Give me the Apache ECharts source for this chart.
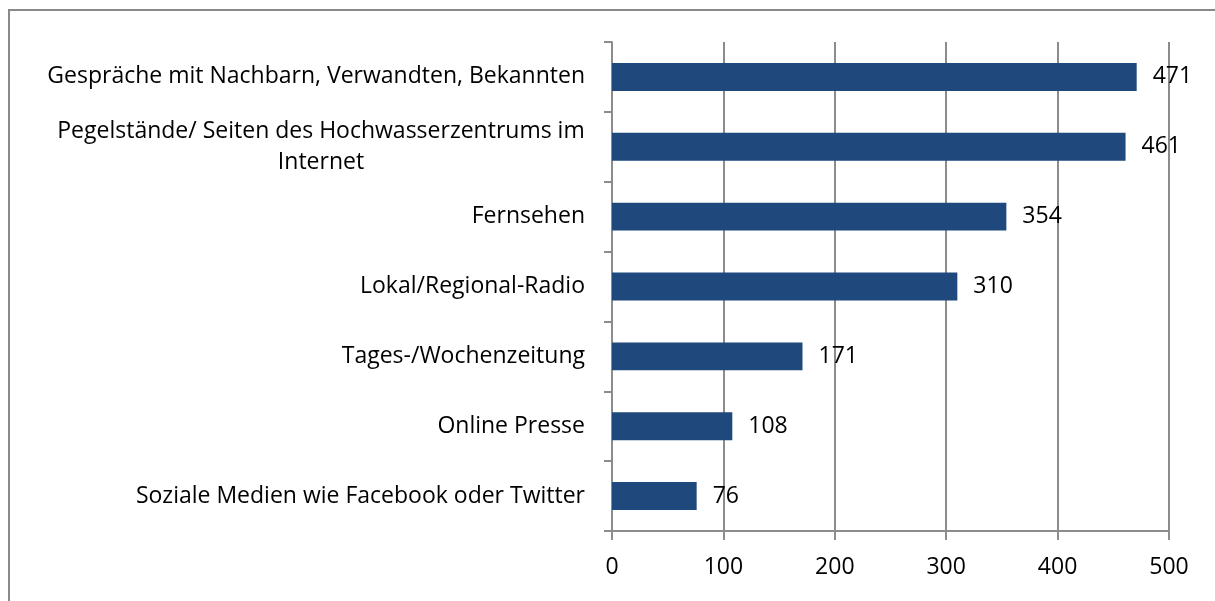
<!DOCTYPE html>
<html>
<head>
<meta charset="utf-8">
<script src="https://cdn.jsdelivr.net/npm/echarts@6/dist/echarts.min.js"></script>
<style>
  html, body { margin: 0; padding: 0; background: #fff; }
  #frame { position: absolute; left: 8px; top: 9px; width: 1215px; height: 600px; border-left: 2px solid #898989; border-top: 2px solid #898989; box-sizing: border-box; }
  #chart { position: absolute; left: 0; top: 0; width: 1215px; height: 601px; }
</style>
</head>
<body>
<div id="frame"></div>
<div id="chart"></div>
<script>
const categories = [
  'Gespräche mit Nachbarn, Verwandten, Bekannten',
  'Pegelstände/ Seiten des Hochwasserzentrums im\nInternet',
  'Fernsehen',
  'Lokal/Regional-Radio',
  'Tages-/Wochenzeitung',
  'Online Presse',
  'Soziale Medien wie Facebook oder Twitter'
]
const values = [471, 461, 354, 310, 171, 108, 76]
const xTicks = [0, 100, 200, 300, 400, 500]

const font = '"Open Sans", sans-serif'
const fontSize = 23
const axisGray = '#8c8c8c'

// 测量换行标签第一行的宽度，让第二行在块内居中
function textWidth (str) {
  const ctx = document.createElement('canvas').getContext('2d')
  ctx.font = fontSize + 'px ' + font
  return Math.ceil(ctx.measureText(str).width)
}

let chart = echarts.init(document.getElementById('chart'))
chart.setOption({
  animation: false,
  textStyle: { fontFamily: font },
  grid: {
    left: 612,
    right: 46,
    top: 42,
    bottom: 70
  },
  xAxis: {
    type: 'value',
    min: xTicks[0],
    max: xTicks[xTicks.length - 1],
    interval: 100,
    axisLine: { show: true, lineStyle: { color: axisGray, width: 2 } },
    axisTick: { show: true, length: 9, lineStyle: { color: axisGray, width: 2 } },
    splitLine: { show: true, lineStyle: { color: axisGray, width: 2 } },
    axisLabel: { color: '#000', fontSize: fontSize, margin: 25, fontFamily: font }
  },
  yAxis: {
    type: 'category',
    inverse: true,
    data: categories,
    axisLine: { show: true, lineStyle: { color: axisGray, width: 2 } },
    axisTick: { show: true, length: 8, lineStyle: { color: axisGray, width: 2 } },
    axisLabel: {
      color: '#000',
      fontSize: fontSize,
      margin: 27,
      lineHeight: 31,
      fontFamily: font,
      formatter: function (val) {
        if (val.indexOf('\n') >= 0) {
          return '{c|' + val + '}'
        }
        return val
      },
      rich: {
        c: {
          width: textWidth(categories[1].split('\n')[0]),
          align: 'center',
          fontSize: fontSize,
          lineHeight: 31,
          color: '#000',
          fontFamily: font
        }
      }
    }
  },
  series: [
    {
      type: 'bar',
      data: values,
      barWidth: '40%',
      itemStyle: { color: '#1F497D' },
      label: {
        show: true,
        position: 'right',
        distance: 16,
        color: '#000',
        fontSize: fontSize,
        fontFamily: font
      }
    }
  ]
})
</script>
</body>
</html>
